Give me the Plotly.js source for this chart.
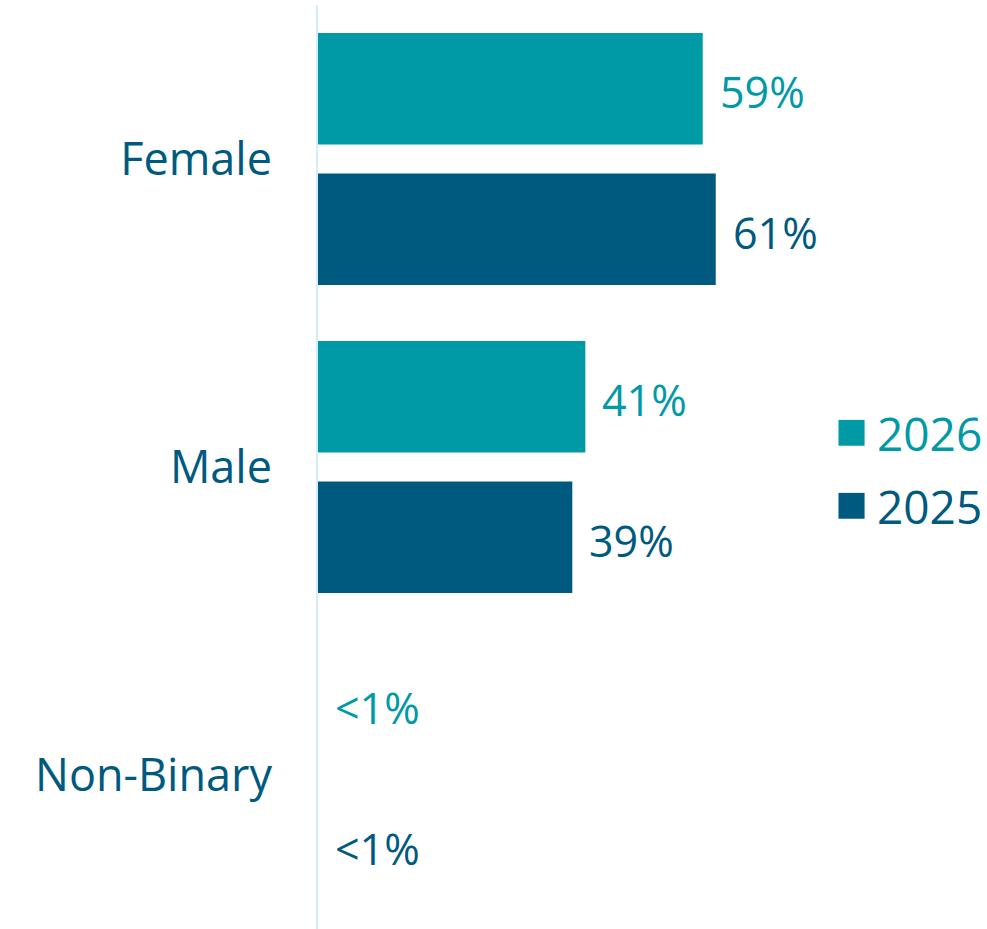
<!DOCTYPE html>
<html>
<head>
<meta charset="utf-8">
<script src="https://cdn.plot.ly/plotly-3.0.1.min.js"></script>
<style>html,body{margin:0;padding:0;background:#fff;}#chart{width:987px;height:929px;}</style>
</head>
<body>
<div id="chart"></div>
<script>
// Data
var categories = ["Female", "Male", "Non-Binary"];
var seriesNames = ["2026", "2025"];
var values2026 = [59, 41, 0];
var values2025 = [61, 39, 0];
var labels2026 = ["59%", "41%", "<1%"];
var labels2025 = ["61%", "39%", "<1%"];

var colors = ["#009aa6", "#005a80"];
var FONT = "Open Sans, Lato, sans-serif";

var seriesValues = [values2026, values2025];
var seriesLabels = [labels2026, labels2025];

var traces = seriesNames.map(function (name, i) {
  return {
    type: "bar",
    orientation: "h",
    name: name,
    y: categories,
    x: seriesValues[i],
    marker: { color: colors[i] },
    hoverinfo: "none",
    showlegend: false
  };
});

// Value labels as annotations placed at bar ends
var annotations = [];
var groupOffsetPx = 70.5;
seriesNames.forEach(function (name, i) {
  categories.forEach(function (cat, j) {
    annotations.push({
      x: seriesValues[i][j],
      y: cat,
      xref: "x",
      yref: "y",
      text: seriesLabels[i][j],
      showarrow: false,
      xanchor: "left",
      yanchor: "middle",
      xshift: 15,
      yshift: (i === 0 ? groupOffsetPx : -groupOffsetPx) - 3,
      font: { family: FONT, size: 43, color: colors[i] }
    });
  });
});

// Manual legend
var shapes = [];
var legendY = [0.537, 0.458];
seriesNames.forEach(function (name, i) {
  shapes.push({
    type: "rect",
    xref: "paper",
    yref: "paper",
    x0: 0.778,
    x1: 0.817,
    y0: legendY[i] - 0.014,
    y1: legendY[i] + 0.014,
    fillcolor: colors[i],
    line: { width: 0 }
  });
  annotations.push({
    xref: "paper",
    yref: "paper",
    x: 0.832,
    y: legendY[i],
    xanchor: "left",
    yanchor: "middle",
    text: name,
    showarrow: false,
    font: { family: FONT, size: 46, color: colors[i] }
  });
});

var layout = {
  width: 987,
  height: 929,
  margin: { l: 318, r: 0, t: 5, b: 0, pad: 0 },
  paper_bgcolor: "#ffffff",
  plot_bgcolor: "#ffffff",
  barmode: "group",
  bargap: 0.087,
  bargroupgap: 0.206,
  showlegend: false,
  xaxis: {
    visible: false,
    range: [0, 102.6],
    showgrid: false,
    zeroline: false
  },
  yaxis: {
    type: "category",
    autorange: "reversed",
    showline: true,
    linecolor: "#d3edf9",
    linewidth: 2,
    showgrid: false,
    zeroline: false,
    ticks: "",
    ticklabelstandoff: 35,
    tickfont: { family: FONT, size: 45, color: "#005a80" }
  },
  annotations: annotations,
  shapes: shapes,
  font: { family: FONT }
};

Plotly.newPlot("chart", traces, layout, { staticPlot: true, displayModeBar: false });
</script>
</body>
</html>
